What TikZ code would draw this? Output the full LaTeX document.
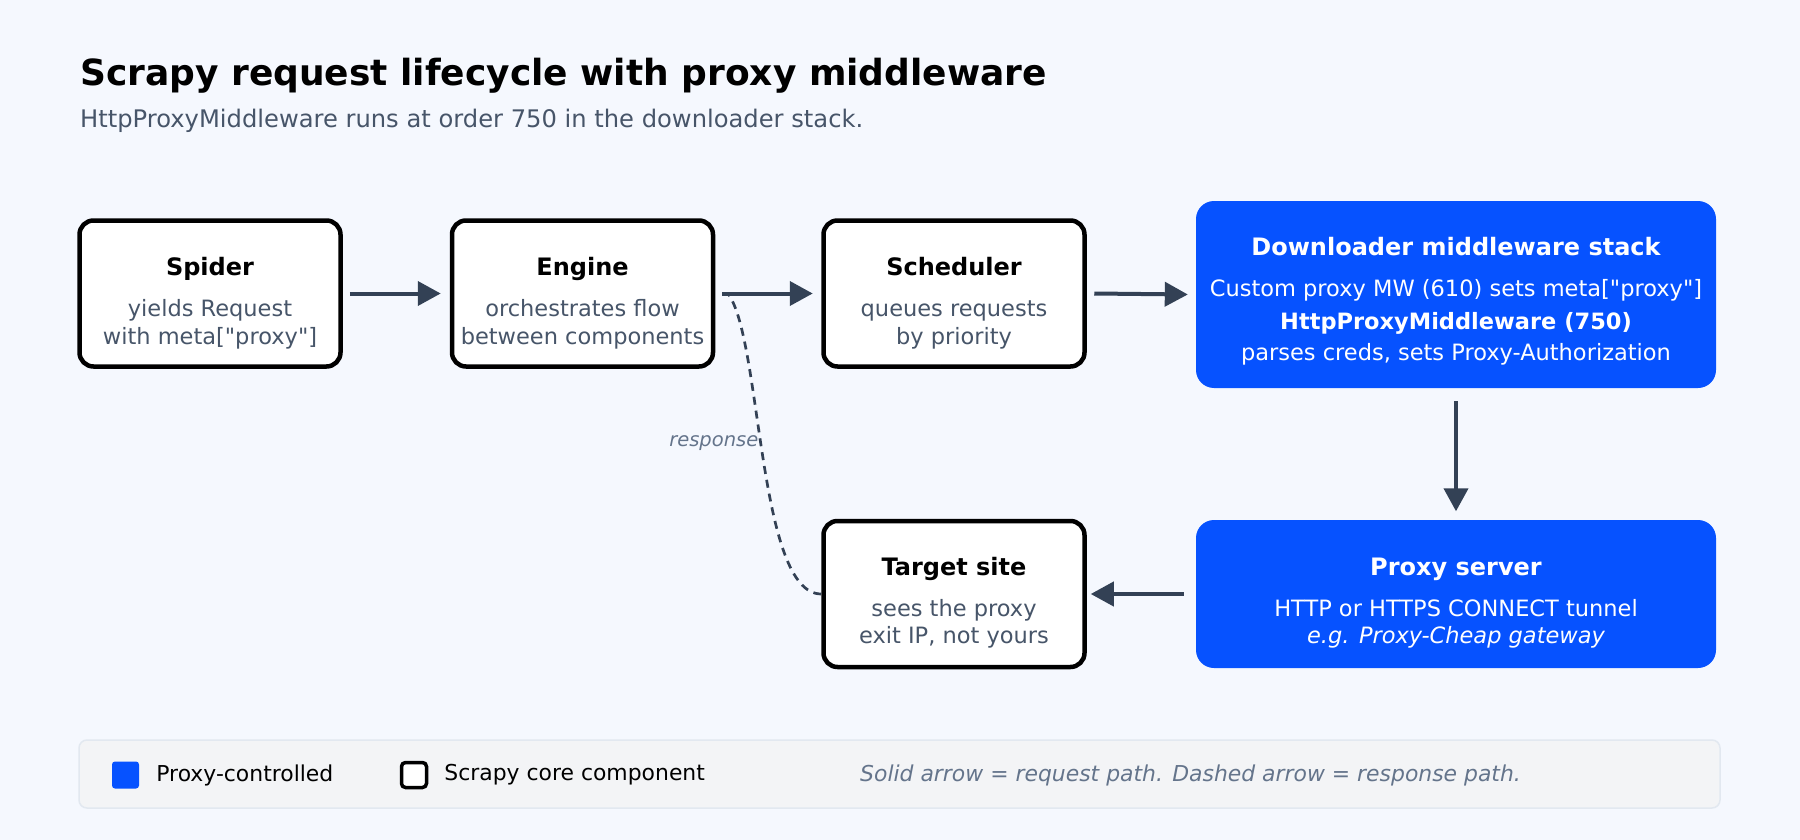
\documentclass[tikz,border=0pt]{standalone}
\usepackage{fontspec}
\setmainfont{DejaVu Sans}[Ligatures=TeXOff]
\usetikzlibrary{arrows.meta,positioning,calc}
\definecolor{pagebg}{HTML}{F5F8FE}
\definecolor{proxyblue}{HTML}{0652FF}
\definecolor{arrowgray}{HTML}{334155}
\definecolor{subgray}{HTML}{475569}
\definecolor{notegray}{HTML}{64748B}
\definecolor{legendbg}{HTML}{F3F4F6}
\definecolor{legendline}{HTML}{E2E8F0}

\begin{document}
\begin{tikzpicture}[x=1pt,y=-1pt]
    \newcommand{\bodyfont}[0]{\fontsize{22.5}{27.5}\selectfont}
    \newcommand{\headfont}[0]{\fontsize{24}{28}\selectfont\bfseries}
    \newcommand{\legendfont}[0]{\fontsize{21.9}{26}\selectfont}
    \newcommand{\headtop}[1]{\rule{0pt}{#1}}
    \tikzstyle{core}=[
      rectangle,
      draw=black,
      line width=4.5pt,
      fill=white,
      rounded corners=14pt,
      minimum width=261pt,
      minimum height=146pt,
      align=center,
      text=subgray,
      font=\bodyfont,
    ]
    \tikzstyle{proxy}=[
      rectangle,
      fill=proxyblue,
      rounded corners=18pt,
      minimum width=520pt,
      align=center,
      text=white,
      font=\bodyfont,
    ]
    \tikzstyle{dedge} = [line width=4pt,draw=arrowgray,-{Triangle[length=23pt,width=24pt]}]
    \tikzstyle{redge} = [line width=2.7pt,draw=arrowgray,dash pattern=on 8pt off 6pt]

    % page
    \fill[pagebg] (0,0) rectangle (1800,840);
    \useasboundingbox (0,0) rectangle (1800,840);

    \node[anchor=base west,inner sep=0,font=\fontsize{36}{42}\selectfont\bfseries] (title) at
      (80,86) {Scrapy request lifecycle with proxy middleware};
    \node[anchor=base west,inner sep=0,text=subgray,font=\fontsize{24.2}{28}\selectfont] (subtitle) at
      (80,127.5) {HttpProxyMiddleware runs at order 750 in the downloader stack.};

    % top row
    \node[core] (spider) at (210,293.5)
      {\headtop{38pt}{\headfont\color{black}Spider}\\[13.5pt]yields Request\\with meta["proxy"]};
    \node[core] (engine) at (582.5,293.5)
      {\headtop{38pt}{\headfont\color{black}Engine}\\[13.5pt]orchestrates flow\\between components};
    \node[core] (scheduler) at (954,293.5)
      {\headtop{38pt}{\headfont\color{black}Scheduler}\\[13.5pt]queues requests\\by priority};
    \node[proxy,minimum height=187pt] (downloader) at (1456,294.5)
      {\headtop{32pt}{\headfont Downloader middleware stack}\\[13.5pt]Custom proxy MW (610) sets meta["proxy"]\\[5.5pt]
       {\bfseries HttpProxyMiddleware (750)}\\[3.5pt]parses creds, sets Proxy-Authorization};

    % bottom row
    \node[core] (target) at (954,594)
      {\headtop{36pt}{\headfont\color{black}Target site}\\[13.5pt]sees the proxy\\exit IP, not yours};
    \node[proxy,minimum height=148pt] (proxyserver) at (1456,594)
      {\headtop{36pt}{\headfont Proxy server}\\[13.5pt]HTTP or HTTPS CONNECT tunnel\\{\itshape e.g. Proxy-Cheap gateway}};

    % request path
    \draw[dedge] ([xshift=7pt]spider.east) -- ([xshift=-9pt]engine.west);
    \draw[dedge] ([xshift=7pt]engine.east) -- ([xshift=-8.5pt]scheduler.west);
    \draw[dedge] ([xshift=7.5pt]scheduler.east) -- ([xshift=-8pt]downloader.west);
    \draw[dedge] ([yshift=-13pt]downloader.south) -- ([yshift=8.5pt]proxyserver.north);
    \draw[dedge] ([xshift=-12pt]proxyserver.west) -- ([xshift=4pt]target.east);

    % response path
    \draw[redge] (target.west)
      .. controls (758,594) and (762,345) ..
      ([xshift=14pt,yshift=-2pt]engine.east) node[pos=0.55,anchor=east,inner sep=1pt,
        text=notegray,font=\fontsize{19.5}{22}\selectfont\itshape] (resplabel) {response};

    % legend
    \node[rectangle,draw=legendline,line width=1.5pt,fill=legendbg,rounded corners=8pt,
      minimum width=1641pt,minimum height=68pt] (legend) at (899.5,774) {};
    \node[fill=proxyblue,rounded corners=3pt,minimum size=27pt,inner sep=0] (keyproxy) at
      (125.5,775) {};
    \node[anchor=west,inner sep=0,font=\legendfont] (keyproxylabel) at
      ([xshift=17pt]keyproxy.east) {Proxy-controlled};
    \node[draw=black,fill=white,line width=3.5pt,rounded corners=4pt,minimum size=25pt,inner sep=0] (keycore) at
      (414,775) {};
    \node[anchor=west,inner sep=0,font=\legendfont] (keycorelabel) at
      ([xshift=16pt]keycore.east) {Scrapy core component};
    \node[anchor=west,inner sep=0,text=notegray,font=\legendfont\itshape] (keynote) at
      (860,775) {Solid arrow = request path. Dashed arrow = response path.};
  \end{tikzpicture}
\end{document}
